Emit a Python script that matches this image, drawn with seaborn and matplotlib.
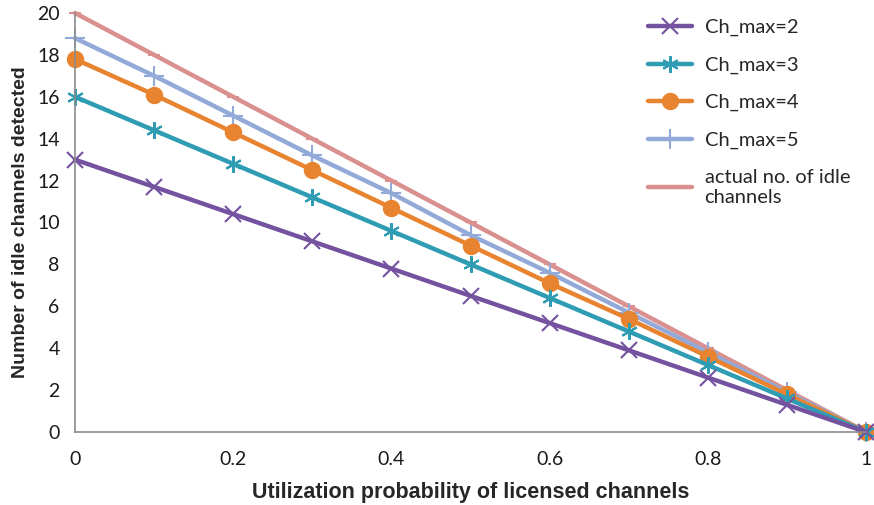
import matplotlib
matplotlib.use("Agg")
import matplotlib.pyplot as plt
import seaborn as sns
import pandas as pd

# Utilization probability of licensed channels
util_prob = [0.0, 0.1, 0.2, 0.3, 0.4, 0.5, 0.6, 0.7, 0.8, 0.9, 1.0]

# Number of idle channels detected for each Ch_max setting
ch_max_2 = [13.0, 11.7, 10.4, 9.1, 7.8, 6.5, 5.2, 3.9, 2.6, 1.3, 0.0]
ch_max_3 = [16.0, 14.4, 12.8, 11.2, 9.6, 8.0, 6.4, 4.8, 3.2, 1.6, 0.0]
ch_max_4 = [17.8, 16.1, 14.3, 12.5, 10.7, 8.9, 7.1, 5.4, 3.6, 1.8, 0.0]
ch_max_5 = [18.8, 17.0, 15.1, 13.2, 11.4, 9.4, 7.6, 5.7, 3.8, 1.9, 0.0]
actual_idle = [20.0, 18.0, 16.0, 14.0, 12.0, 10.0, 8.0, 6.0, 4.0, 2.0, 0.0]

series_names = ["Ch_max=2", "Ch_max=3", "Ch_max=4", "Ch_max=5",
                "actual no. of idle\nchannels"]
series_values = [ch_max_2, ch_max_3, ch_max_4, ch_max_5, actual_idle]

x_ticks = [0, 0.2, 0.4, 0.6, 0.8, 1]
x_tick_labels = ["0", "0.2", "0.4", "0.6", "0.8", "1"]
y_ticks = [0, 2, 4, 6, 8, 10, 12, 14, 16, 18, 20]

rows = []
for name, vals in zip(series_names, series_values):
    for xv, yv in zip(util_prob, vals):
        rows.append({"p": xv, "n": yv, "series": name})
df = pd.DataFrame(rows)

sns.set_theme(style="white")
plt.rcParams["font.family"] = ["Lato", "DejaVu Sans"]

colors = ["#7452A0", "#2E9CB3", "#E8832F", "#93AAD8", "#D9908E"]
markers = ["x", (6, 2, 0), "o", "+", "_"]
sizes = [12, 12, 11, 14, 8]

fig = plt.figure(figsize=(8.74, 5.05), dpi=100)
ax = fig.add_axes([75 / 874, 1 - 432 / 505, (866 - 75) / 874, (432 - 13) / 505])

# draw in reverse so the lower curves sit on top of the upper ones
for name, col, mk, ms in reversed(list(zip(series_names, colors, markers, sizes))):
    sub = df[df["series"] == name]
    sns.lineplot(data=sub, x="p", y="n", ax=ax, color=col, marker=mk,
                 markersize=ms, linewidth=3.2, markeredgewidth=1.5,
                 markeredgecolor=col, label=name, clip_on=False)

ax.set_xlim(0, 1)
ax.set_ylim(0, 20)
ax.set_xticks(x_ticks)
ax.set_xticklabels(x_tick_labels)
ax.set_yticks(y_ticks)

for side in ["top", "right"]:
    ax.spines[side].set_visible(False)
for side in ["left", "bottom"]:
    ax.spines[side].set_color("#8C8C8C")
    ax.spines[side].set_linewidth(1.2)
ax.tick_params(axis="both", direction="out", length=6, width=1.2,
               color="#8C8C8C", labelsize=14, labelcolor="#1a1a1a", pad=5)
ax.tick_params(axis="x", pad=8)

label_font = ["Liberation Sans", "DejaVu Sans"]
ax.set_xlabel("Utilization probability of licensed channels",
              fontsize=15.5, fontweight="bold", labelpad=10, family=label_font)
ax.set_ylabel("Number of idle channels detected",
              fontsize=14, fontweight="bold", labelpad=6, family=label_font)

handles, labels = ax.get_legend_handles_labels()
order = [labels.index(n) for n in series_names]
leg = ax.legend([handles[i] for i in order], [labels[i] for i in order],
                loc="upper left", bbox_to_anchor=(630 / 874, 1 - 1 / 505),
                bbox_transform=fig.transFigure, frameon=False,
                handlelength=2.2, labelspacing=1.0, handletextpad=0.6,
                prop={"family": ["Lato", "DejaVu Sans"], "size": 14.5})

fig.savefig("out.png", dpi=100)
